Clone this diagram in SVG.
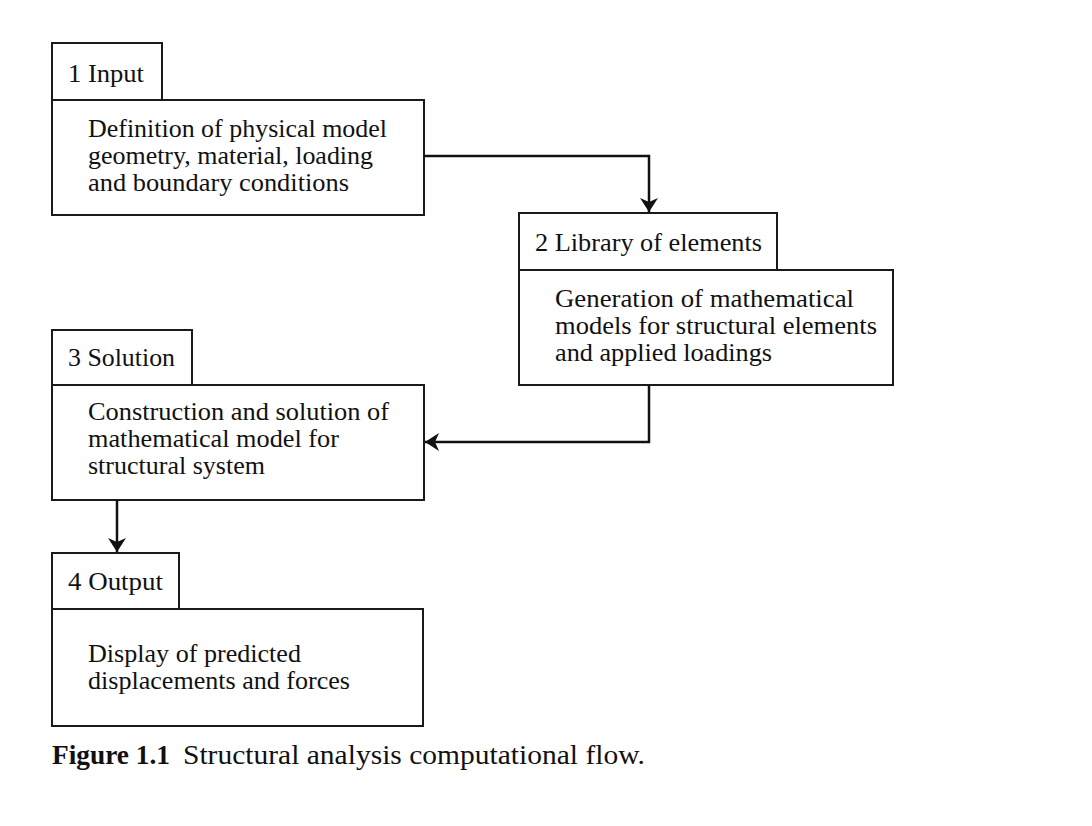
<svg xmlns="http://www.w3.org/2000/svg" width="1092" height="826" viewBox="0 0 1092 826">
<style>
.box{fill:#fff;stroke:#1a1a1a;stroke-width:2}
.t{font-family:"Liberation Serif","Times New Roman",serif;font-size:25px;fill:#111}
.cap{font-family:"Liberation Serif","Times New Roman",serif;font-size:27px;fill:#111}
.c{fill:none;stroke:#111;stroke-width:2.5}
</style>
<defs>
<marker id="arr" viewBox="0 0 14 18" refX="14" refY="9" markerWidth="14" markerHeight="18" markerUnits="userSpaceOnUse" orient="auto">
<path d="M0,0 L14,9 L0,18 L4,9 Z" fill="#111"/>
</marker>
</defs>
<rect width="1092" height="826" fill="#fff"/>
<g id="node1">
<rect class="box" x="52" y="43" width="110" height="57"/>
<rect class="box" x="52" y="100" width="372" height="115"/>
<text class="t" x="68" y="82" textLength="76" lengthAdjust="spacingAndGlyphs">1 Input</text>
<text class="t" x="88" y="137" textLength="299" lengthAdjust="spacingAndGlyphs">Definition of physical model</text>
<text class="t" x="88" y="164" textLength="285" lengthAdjust="spacingAndGlyphs">geometry, material, loading</text>
<text class="t" x="88" y="191" textLength="261" lengthAdjust="spacingAndGlyphs">and boundary conditions</text>
</g>
<g id="node2">
<rect class="box" x="519" y="213" width="258" height="57"/>
<rect class="box" x="519" y="270" width="374" height="115"/>
<text class="t" x="535" y="251" textLength="227" lengthAdjust="spacingAndGlyphs">2 Library of elements</text>
<text class="t" x="555" y="307" textLength="299" lengthAdjust="spacingAndGlyphs">Generation of mathematical</text>
<text class="t" x="555" y="334" textLength="322" lengthAdjust="spacingAndGlyphs">models for structural elements</text>
<text class="t" x="555" y="361" textLength="217" lengthAdjust="spacingAndGlyphs">and applied loadings</text>
</g>
<g id="node3">
<rect class="box" x="52" y="330" width="140" height="55"/>
<rect class="box" x="52" y="385" width="372" height="115"/>
<text class="t" x="68" y="366" textLength="107" lengthAdjust="spacingAndGlyphs">3 Solution</text>
<text class="t" x="88" y="420" textLength="301" lengthAdjust="spacingAndGlyphs">Construction and solution of</text>
<text class="t" x="88" y="447" textLength="251" lengthAdjust="spacingAndGlyphs">mathematical model for</text>
<text class="t" x="88" y="474" textLength="177" lengthAdjust="spacingAndGlyphs">structural system</text>
</g>
<g id="node4">
<rect class="box" x="52" y="553" width="127" height="56"/>
<rect class="box" x="52" y="609" width="371" height="117"/>
<text class="t" x="68" y="590" textLength="95" lengthAdjust="spacingAndGlyphs">4 Output</text>
<text class="t" x="88" y="662" textLength="213" lengthAdjust="spacingAndGlyphs">Display of predicted</text>
<text class="t" x="88" y="689" textLength="262" lengthAdjust="spacingAndGlyphs">displacements and forces</text>
</g>
<g id="connectors">
<path class="c" d="M424,156 H649 V212" marker-end="url(#arr)"/>
<path class="c" d="M649,385 V442 H425" marker-end="url(#arr)"/>
<path class="c" d="M117,500 V552" marker-end="url(#arr)"/>
</g>
<text class="cap" x="52" y="764" font-weight="bold" textLength="118" lengthAdjust="spacingAndGlyphs">Figure 1.1</text>
<text class="cap" x="183" y="764" textLength="462" lengthAdjust="spacingAndGlyphs">Structural analysis computational flow.</text>
</svg>
